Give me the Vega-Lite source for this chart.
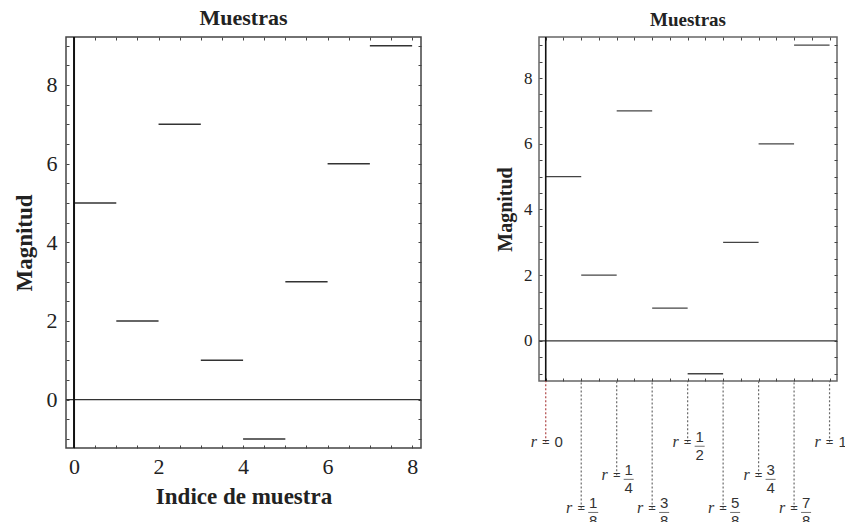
{
  "$schema": "https://vega.github.io/schema/vega-lite/v6.json",
  "background": "white",
  "padding": {"left": 12, "top": 6, "right": 0, "bottom": 0},
  "config": {
    "font": "Liberation Serif",
    "view": {"stroke": "#444", "strokeWidth": 1.5},
    "axis": {"domain": false, "grid": false, "tickColor": "#444", "labelColor": "#222", "titleColor": "#222", "labelFont": "Liberation Serif", "titleFont": "Liberation Serif", "format": "d"},
    "title": {"font": "Liberation Serif", "color": "#222", "fontWeight": "bold"}
  },
  "datasets": {
    "muestras": [
      {"inicio": 0, "fin": 1, "valor": 5},
      {"inicio": 1, "fin": 2, "valor": 2},
      {"inicio": 2, "fin": 3, "valor": 7},
      {"inicio": 3, "fin": 4, "valor": 1},
      {"inicio": 4, "fin": 5, "valor": -1},
      {"inicio": 5, "fin": 6, "valor": 3},
      {"inicio": 6, "fin": 7, "valor": 6},
      {"inicio": 7, "fin": 8, "valor": 9}
    ],
    "etiquetas": [
      {"k": 0, "entero": "0", "num": "", "den": "", "nivel": 1},
      {"k": 1, "entero": "", "num": "1", "den": "8", "nivel": 3},
      {"k": 2, "entero": "", "num": "1", "den": "4", "nivel": 2},
      {"k": 3, "entero": "", "num": "3", "den": "8", "nivel": 3},
      {"k": 4, "entero": "", "num": "1", "den": "2", "nivel": 1},
      {"k": 5, "entero": "", "num": "5", "den": "8", "nivel": 3},
      {"k": 6, "entero": "", "num": "3", "den": "4", "nivel": 2},
      {"k": 7, "entero": "", "num": "7", "den": "8", "nivel": 3},
      {"k": 8, "entero": "1", "num": "", "den": "", "nivel": 1}
    ]
  },
  "spacing": 71,
  "align": "none",
  "hconcat": [
    {
      "width": 355,
      "height": 411,
      "title": {"text": "Muestras", "fontSize": 22, "offset": 6},
      "layer": [
        {
          "data": {"name": "muestras"},
          "mark": {"type": "rule", "color": "#333", "strokeWidth": 1.5},
          "encoding": {
            "x": {"field": "inicio", "type": "quantitative",
              "scale": {"domain": [-0.19, 8.21], "nice": false, "zero": false},
              "axis": {"orient": "bottom", "values": [0,0.5,1,1.5,2,2.5,3,3.5,4,4.5,5,5.5,6,6.5,7,7.5,8], "labelExpr": "datum.value % 2 == 0 ? datum.label : ''", "tickSize": -3, "labelPadding": 11, "labelFontSize": 22, "title": "Indice de muestra", "titleFontSize": 23, "titleFontWeight": "bold", "titlePadding": 8, "labelFlush": false}},
            "x2": {"field": "fin"},
            "y": {"field": "valor", "type": "quantitative",
              "scale": {"domain": [-1.23, 9.22], "nice": false, "zero": false},
              "axis": {"orient": "left", "values": [-1,-0.5,0,0.5,1,1.5,2,2.5,3,3.5,4,4.5,5,5.5,6,6.5,7,7.5,8,8.5,9], "labelExpr": "datum.value % 2 == 0 ? datum.label : ''", "tickSize": -3, "labelPadding": 12, "labelFontSize": 22, "title": "Magnitud", "titleFontSize": 23, "titleFontWeight": "bold", "titlePadding": 10, "labelFlush": false}}
          }
        },
        {
          "data": {"values": [{}]},
          "mark": {"type": "rule", "color": "#333", "strokeWidth": 1.3},
          "encoding": {
            "y": {"datum": 0, "type": "quantitative",
              "axis": {"orient": "right", "values": [-1,-0.5,0,0.5,1,1.5,2,2.5,3,3.5,4,4.5,5,5.5,6,6.5,7,7.5,8,8.5,9], "labels": false, "tickSize": -3, "title": null}}
          }
        },
        {
          "data": {"values": [{}]},
          "mark": {"type": "rule", "color": "#111", "strokeWidth": 2},
          "encoding": {
            "x": {"datum": 0, "type": "quantitative",
              "axis": {"orient": "top", "values": [0,0.5,1,1.5,2,2.5,3,3.5,4,4.5,5,5.5,6,6.5,7,7.5,8], "labels": false, "tickSize": -3, "title": null}}
          }
        }
      ],
      "resolve": {"axis": {"x": "independent", "y": "independent"}}
    },
    {
      "spacing": 0,
      "bounds": "flush",
      "vconcat": [
        {
          "width": 298,
          "height": 344,
          "title": {"text": "Muestras", "fontSize": 19, "offset": 6},
          "view": {"stroke": "#666"},
          "layer": [
            {
              "data": {"name": "muestras"},
              "mark": {"type": "rule", "color": "#444", "strokeWidth": 1.3},
              "encoding": {
                "x": {"field": "inicio", "type": "quantitative",
                  "scale": {"domain": [-0.19, 8.21], "nice": false, "zero": false},
                  "axis": {"orient": "bottom", "values": [0,0.5,1,1.5,2,2.5,3,3.5,4,4.5,5,5.5,6,6.5,7,7.5,8], "labels": false, "tickSize": -3, "title": null}},
                "x2": {"field": "fin"},
                "y": {"field": "valor", "type": "quantitative",
                  "scale": {"domain": [-1.22, 9.25], "nice": false, "zero": false},
                  "axis": {"orient": "left", "values": [-1,-0.5,0,0.5,1,1.5,2,2.5,3,3.5,4,4.5,5,5.5,6,6.5,7,7.5,8,8.5,9], "labelExpr": "datum.value % 2 == 0 ? datum.label : ''", "tickSize": -3, "labelPadding": 10, "labelFontSize": 17, "title": "Magnitud", "titleFontSize": 20, "titleFontWeight": "bold", "titlePadding": 8, "labelFlush": false}}
              }
            },
            {
              "data": {"values": [{}]},
              "mark": {"type": "rule", "color": "#333", "strokeWidth": 1.2},
              "encoding": {
                "y": {"datum": 0, "type": "quantitative",
                  "axis": {"orient": "right", "values": [-1,-0.5,0,0.5,1,1.5,2,2.5,3,3.5,4,4.5,5,5.5,6,6.5,7,7.5,8,8.5,9], "labels": false, "tickSize": -3, "title": null}}
              }
            },
            {
              "data": {"values": [{}]},
              "mark": {"type": "rule", "color": "#111", "strokeWidth": 1.6},
              "encoding": {
                "x": {"datum": 0, "type": "quantitative",
                  "axis": {"orient": "top", "values": [0,0.5,1,1.5,2,2.5,3,3.5,4,4.5,5,5.5,6,6.5,7,7.5,8], "labels": false, "tickSize": -3, "title": null}}
              }
            }
          ],
          "resolve": {"axis": {"x": "independent", "y": "independent"}}
        },
        {
          "width": 298,
          "height": 144,
          "view": {"stroke": null},
          "data": {"name": "etiquetas"},
          "encoding": {
            "x": {"field": "k", "type": "quantitative",
              "scale": {"domain": [-0.19, 8.21], "nice": false, "zero": false}, "axis": null}
          },
          "layer": [
            {
              "mark": {"type": "rule", "strokeDash": [2, 2], "strokeWidth": 1.2},
              "encoding": {
                "y": {"field": "nivel", "type": "quantitative",
                  "scale": {"domain": [-0.85, 3.5], "nice": false, "zero": false, "reverse": true}, "axis": null},
                "y2": {"datum": -0.85},
                "color": {"condition": {"test": "datum.k == 0", "value": "#b04848"}, "value": "#6a6a6a"}
              }
            },
            {
              "mark": {"type": "text", "text": "r", "font": "Liberation Serif", "fontStyle": "italic", "fontSize": 16, "dx": -12, "baseline": "middle", "color": "#333"},
              "encoding": {"y": {"field": "nivel", "type": "quantitative"}}
            },
            {
              "mark": {"type": "text", "text": "=", "font": "Liberation Sans", "fontSize": 13, "baseline": "middle", "color": "#333"},
              "encoding": {"y": {"field": "nivel", "type": "quantitative"}}
            },
            {
              "mark": {"type": "text", "font": "Liberation Sans", "fontSize": 15, "dx": 13, "baseline": "middle", "color": "#333"},
              "encoding": {"y": {"field": "nivel", "type": "quantitative"}, "text": {"field": "entero"}}
            },
            {
              "mark": {"type": "text", "font": "Liberation Sans", "fontSize": 15, "dx": 12, "dy": -5, "baseline": "middle", "color": "#333"},
              "encoding": {"y": {"field": "nivel", "type": "quantitative"}, "text": {"field": "num"}}
            },
            {
              "mark": {"type": "text", "font": "Liberation Sans", "fontSize": 15, "dx": 12, "dy": 13, "baseline": "middle", "color": "#333"},
              "encoding": {"y": {"field": "nivel", "type": "quantitative"}, "text": {"field": "den"}}
            },
            {
              "transform": [{"filter": "datum.den != ''"}],
              "mark": {"type": "tick", "orient": "horizontal", "size": 10, "thickness": 1, "xOffset": 12, "yOffset": 4, "color": "#333"},
              "encoding": {"y": {"field": "nivel", "type": "quantitative"}}
            }
          ]
        }
      ]
    }
  ]
}
